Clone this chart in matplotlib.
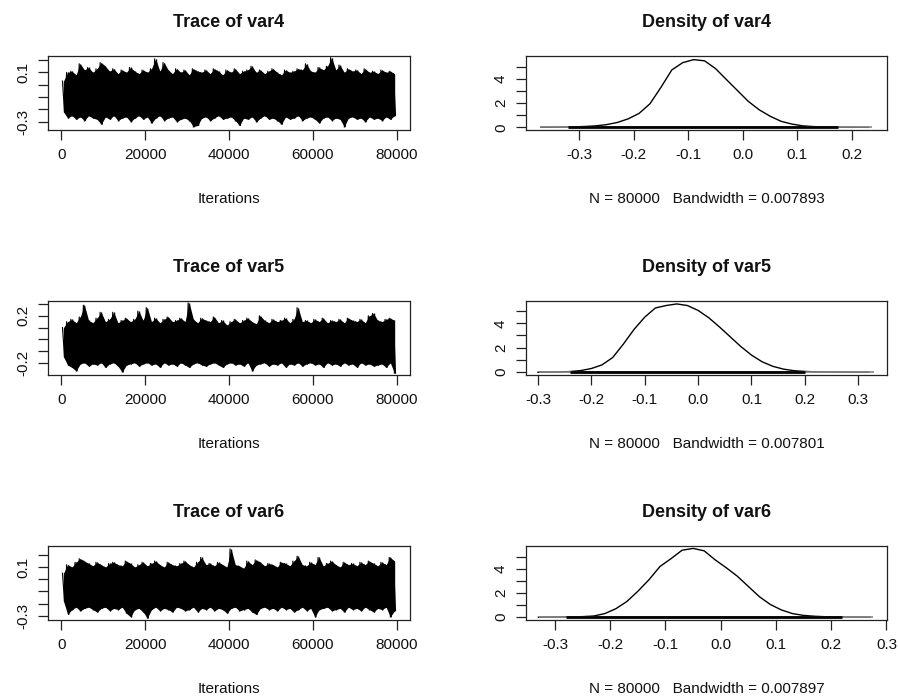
import numpy as np
import matplotlib.pyplot as plt

plt.rcParams['font.family'] = ['Liberation Sans', 'DejaVu Sans']

# MCMC trace envelopes: max / min of each block of 1000 iterations
iter_bins = np.arange(0, 80000, 1000)

var4_hi = [0.03, 0.10, 0.11, 0.08, 0.17, 0.12, 0.14, 0.10, 0.13, 0.18,
           0.15, 0.11, 0.13, 0.09, 0.12, 0.10, 0.14, 0.11, 0.09, 0.12,
           0.10, 0.13, 0.21, 0.11, 0.18, 0.12, 0.09, 0.13, 0.10, 0.12,
           0.08, 0.13, 0.11, 0.10, 0.12, 0.09, 0.13, 0.11, 0.08, 0.12,
           0.10, 0.13, 0.09, 0.11, 0.12, 0.15, 0.10, 0.12, 0.09, 0.11,
           0.13, 0.10, 0.08, 0.12, 0.10, 0.11, 0.13, 0.12, 0.17, 0.11,
           0.10, 0.14, 0.12, 0.15, 0.22, 0.12, 0.16, 0.10, 0.13, 0.11,
           0.12, 0.09, 0.13, 0.10, 0.11, 0.09, 0.12, 0.10, 0.11, 0.09]
var4_lo = [-0.22, -0.27, -0.25, -0.28, -0.26, -0.29, -0.25, -0.27, -0.28, -0.32,
           -0.26, -0.28, -0.25, -0.29, -0.27, -0.26, -0.30, -0.27, -0.25, -0.28,
           -0.26, -0.31, -0.27, -0.25, -0.29, -0.27, -0.26, -0.30, -0.28, -0.27,
           -0.29, -0.34, -0.33, -0.27, -0.26, -0.29, -0.27, -0.25, -0.28, -0.27,
           -0.26, -0.29, -0.33, -0.27, -0.28, -0.26, -0.30, -0.27, -0.25, -0.28,
           -0.27, -0.29, -0.32, -0.26, -0.28, -0.27, -0.25, -0.29, -0.27, -0.26,
           -0.28, -0.31, -0.27, -0.26, -0.29, -0.27, -0.28, -0.34, -0.27, -0.26,
           -0.28, -0.27, -0.30, -0.26, -0.28, -0.27, -0.29, -0.26, -0.28, -0.25]

var5_hi = [0.10, 0.15, 0.17, 0.14, 0.19, 0.29, 0.16, 0.14, 0.18, 0.23,
           0.15, 0.17, 0.23, 0.14, 0.16, 0.18, 0.15, 0.17, 0.24, 0.16,
           0.27, 0.15, 0.18, 0.14, 0.17, 0.19, 0.15, 0.16, 0.18, 0.15,
           0.31, 0.17, 0.14, 0.18, 0.16, 0.15, 0.19, 0.14, 0.16, 0.12,
           0.15, 0.17, 0.14, 0.16, 0.18, 0.15, 0.13, 0.20, 0.16, 0.14,
           0.17, 0.15, 0.16, 0.18, 0.14, 0.17, 0.27, 0.15, 0.16, 0.14,
           0.17, 0.15, 0.18, 0.14, 0.16, 0.15, 0.17, 0.14, 0.18, 0.16,
           0.15, 0.17, 0.14, 0.20, 0.22, 0.16, 0.15, 0.17, 0.18, 0.16]
var5_lo = [-0.15, -0.22, -0.24, -0.27, -0.21, -0.20, -0.23, -0.21, -0.22, -0.20,
           -0.24, -0.21, -0.20, -0.23, -0.28, -0.22, -0.21, -0.20, -0.23, -0.21,
           -0.20, -0.22, -0.21, -0.24, -0.20, -0.22, -0.21, -0.23, -0.20, -0.22,
           -0.24, -0.21, -0.20, -0.22, -0.23, -0.21, -0.20, -0.22, -0.24, -0.21,
           -0.20, -0.22, -0.21, -0.23, -0.20, -0.27, -0.22, -0.21, -0.20, -0.23,
           -0.21, -0.22, -0.20, -0.24, -0.21, -0.22, -0.20, -0.23, -0.21, -0.20,
           -0.22, -0.21, -0.24, -0.20, -0.22, -0.21, -0.23, -0.20, -0.22, -0.21,
           -0.24, -0.20, -0.22, -0.21, -0.23, -0.22, -0.21, -0.24, -0.20, -0.29]

var6_hi = [0.05, 0.12, 0.10, 0.14, 0.17, 0.15, 0.13, 0.11, 0.14, 0.12,
           0.10, 0.13, 0.14, 0.12, 0.11, 0.15, 0.13, 0.10, 0.12, 0.14,
           0.11, 0.13, 0.15, 0.12, 0.10, 0.14, 0.12, 0.11, 0.13, 0.15,
           0.12, 0.10, 0.14, 0.18, 0.12, 0.13, 0.11, 0.14, 0.12, 0.10,
           0.25, 0.12, 0.11, 0.09, 0.15, 0.12, 0.16, 0.14, 0.11, 0.13,
           0.12, 0.10, 0.14, 0.13, 0.11, 0.15, 0.19, 0.12, 0.11, 0.14,
           0.12, 0.18, 0.11, 0.13, 0.15, 0.12, 0.10, 0.14, 0.12, 0.13,
           0.11, 0.14, 0.12, 0.15, 0.13, 0.11, 0.14, 0.12, 0.18, 0.15]
var6_lo = [-0.18, -0.29, -0.25, -0.23, -0.26, -0.24, -0.23, -0.25, -0.27, -0.24,
           -0.23, -0.26, -0.24, -0.25, -0.23, -0.28, -0.31, -0.25, -0.24, -0.27,
           -0.32, -0.25, -0.23, -0.26, -0.24, -0.25, -0.27, -0.23, -0.24, -0.26,
           -0.25, -0.23, -0.27, -0.24, -0.25, -0.23, -0.26, -0.24, -0.25, -0.28,
           -0.24, -0.23, -0.26, -0.25, -0.24, -0.27, -0.29, -0.24, -0.23, -0.25,
           -0.24, -0.26, -0.23, -0.25, -0.24, -0.27, -0.25, -0.23, -0.26, -0.24,
           -0.31, -0.25, -0.24, -0.23, -0.26, -0.25, -0.24, -0.27, -0.23, -0.25,
           -0.24, -0.26, -0.23, -0.25, -0.27, -0.24, -0.25, -0.23, -0.31, -0.26]

# kernel density estimates
var4_dx = [-0.37, -0.35, -0.33, -0.31, -0.29, -0.27, -0.25, -0.23, -0.21, -0.19,
           -0.17, -0.15, -0.13, -0.11, -0.09, -0.07, -0.05, -0.03, -0.01, 0.01,
           0.03, 0.05, 0.07, 0.09, 0.11, 0.13, 0.15, 0.17, 0.19, 0.21, 0.23]
var4_dy = [0.0, 0.01, 0.02, 0.04, 0.07, 0.12, 0.22, 0.40, 0.70, 1.15,
           1.95, 3.3, 4.75, 5.35, 5.6, 5.5, 4.86, 3.95, 3.05, 2.15,
           1.45, 0.92, 0.5, 0.27, 0.12, 0.06, 0.03, 0.015, 0.008, 0.003, 0.0]

var5_dx = [-0.30, -0.28, -0.26, -0.24, -0.22, -0.20, -0.18, -0.16, -0.14, -0.12,
           -0.10, -0.08, -0.06, -0.04, -0.02, 0.00, 0.02, 0.04, 0.06, 0.08,
           0.10, 0.12, 0.14, 0.16, 0.18, 0.20, 0.22, 0.24, 0.26, 0.28, 0.30, 0.32]
var5_dy = [0.0, 0.01, 0.02, 0.05, 0.13, 0.3, 0.6, 1.2, 2.3, 3.5,
           4.5, 5.25, 5.45, 5.58, 5.45, 5.05, 4.45, 3.7, 2.9, 2.1,
           1.4, 0.85, 0.48, 0.25, 0.12, 0.06, 0.03, 0.02, 0.01, 0.005, 0.003, 0.0]

var6_dx = [-0.33, -0.31, -0.29, -0.27, -0.25, -0.23, -0.21, -0.19, -0.17, -0.15,
           -0.13, -0.11, -0.09, -0.07, -0.05, -0.03, -0.01, 0.01, 0.03, 0.05,
           0.07, 0.09, 0.11, 0.13, 0.15, 0.17, 0.19, 0.21, 0.23, 0.25, 0.27]
var6_dy = [0.0, 0.01, 0.02, 0.03, 0.05, 0.1, 0.3, 0.7, 1.3, 2.15,
           3.1, 4.2, 4.85, 5.55, 5.7, 5.5, 4.75, 4.1, 3.4, 2.55,
           1.7, 1.05, 0.6, 0.3, 0.15, 0.08, 0.04, 0.02, 0.01, 0.005, 0.0]

# observation rug: full range and dense core
var4_rug = [(-0.372, 0.237), (-0.32, 0.175)]
var5_rug = [(-0.298, 0.330), (-0.24, 0.200)]
var6_rug = [(-0.329, 0.276), (-0.28, 0.220)]

bandwidths = ["0.007893", "0.007801", "0.007897"]
names = ["var4", "var5", "var6"]

trace_hi = [var4_hi, var5_hi, var6_hi]
trace_lo = [var4_lo, var5_lo, var6_lo]
dens_x = [var4_dx, var5_dx, var6_dx]
dens_y = [var4_dy, var5_dy, var6_dy]
rugs = [var4_rug, var5_rug, var6_rug]

trace_ylim = [(-0.367, 0.233), (-0.305, 0.326), (-0.336, 0.274)]
trace_yticks = [np.arange(-0.3, 0.25, 0.1), np.arange(-0.2, 0.35, 0.1), np.arange(-0.3, 0.25, 0.1)]
trace_ylabels = [{-0.3: "-0.3", 0.1: "0.1"}, {-0.2: "-0.2", 0.2: "0.2"}, {-0.3: "-0.3", 0.1: "0.1"}]
dens_xlim = [(-0.397, 0.264), (-0.3225, 0.354), (-0.3525, 0.301)]
dens_xticks = [[-0.3, -0.2, -0.1, 0.0, 0.1, 0.2], [-0.3, -0.2, -0.1, 0.0, 0.1, 0.2, 0.3],
               [-0.3, -0.2, -0.1, 0.0, 0.1, 0.2, 0.3]]
dens_ylim = [(-0.22, 5.9), (-0.23, 5.82), (-0.23, 5.9)]

W, H = 898, 697
fig = plt.figure(figsize=(W / 100, H / 100), dpi=100)

row_tops = [56, 301, 546]
box_h = 74


def style(ax):
    for s in ax.spines.values():
        s.set_linewidth(0.9)
        s.set_color('#222222')
    ax.tick_params(direction='out', length=7, width=0.9, color='#222222',
                   labelsize=11, pad=6, labelcolor='#111111')
    ax.tick_params(axis='y', labelrotation=90)
    for lab in ax.get_yticklabels():
        lab.set_va('center')


for r in range(3):
    y0 = 1 - (row_tops[r] + box_h) / H
    h = box_h / H

    # trace plot
    ax = fig.add_axes([48 / W, y0, 362 / W, h])
    centers = iter_bins + 500
    ax.fill_between(centers, trace_lo[r], trace_hi[r], color='black', lw=0)
    xs = np.column_stack([iter_bins + 250, iter_bins + 750]).ravel()
    ys = np.column_stack([trace_hi[r], trace_lo[r]]).ravel()
    ax.plot(xs, ys, color='black', lw=0.8)
    ax.vlines(centers, trace_lo[r], trace_hi[r], color='black', lw=1.0)
    ax.set_xlim(-3200, 83200)
    ax.set_ylim(*trace_ylim[r])
    ax.set_xticks([0, 20000, 40000, 60000, 80000])
    ticks = trace_yticks[r]
    ax.set_yticks(ticks)
    labs = []
    for t in ticks:
        key = [k for k in trace_ylabels[r] if abs(k - t) < 1e-6]
        labs.append(trace_ylabels[r][key[0]] if key else "")
    ax.set_yticklabels(labs)
    style(ax)
    ax.set_title("Trace of " + names[r], fontsize=13, fontweight='bold', pad=21, color='#111111')
    ax.set_xlabel("Iterations", fontsize=11, color='#111111')
    ax.xaxis.set_label_coords(0.5, -0.84)

    # density plot
    ax = fig.add_axes([526 / W, y0, 361 / W, h])
    ax.plot(dens_x[r], dens_y[r], color='black', lw=1.0)
    full, dense = rugs[r]
    ax.hlines(0.03, full[0], full[1], color='#888888', lw=1.2)
    ax.hlines(0.03, dense[0], dense[1], color='black', lw=2.0)
    ax.set_xlim(*dens_xlim[r])
    ax.set_ylim(*dens_ylim[r])
    ax.set_xticks(dens_xticks[r])
    ax.set_xticklabels(["%.1f" % v for v in dens_xticks[r]])
    ax.set_yticks([0, 1, 2, 3, 4, 5])
    ax.set_yticklabels(["0", "", "2", "", "4", ""])
    style(ax)
    ax.set_title("Density of " + names[r], fontsize=13, fontweight='bold', pad=21, color='#111111')
    ax.set_xlabel("N = 80000   Bandwidth = " + bandwidths[r], fontsize=11, color='#111111')
    ax.xaxis.set_label_coords(0.5, -0.84)

fig.savefig("out.png", dpi=100)
